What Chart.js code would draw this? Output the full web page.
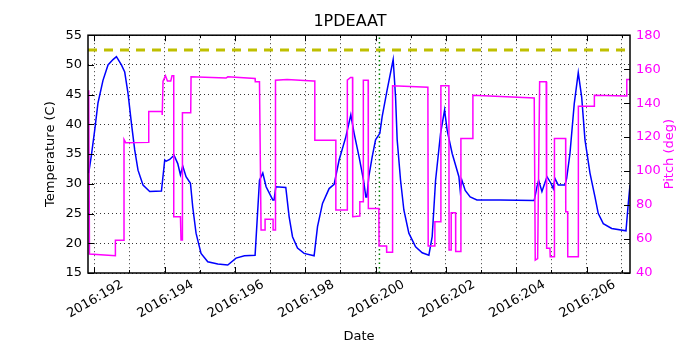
<!DOCTYPE html>
<html><head><meta charset="utf-8">
<script src="https://cdn.jsdelivr.net/npm/chart.js@4.4.0/dist/chart.umd.min.js"></script>
<style>html,body{margin:0;padding:0;background:#fff}</style>
</head><body>
<canvas id="c" width="700" height="350"></canvas>
<script>
// ---- data ----
const tempDays = [191.844,191.920,192.014,192.108,192.250,192.393,192.535,192.632,192.774,192.868,192.962,193.058,193.152,193.246,193.388,193.579,193.912,194.006,194.048,194.148,194.270,194.376,194.452,194.518,194.612,194.737,194.802,194.896,195.038,195.229,195.514,195.798,196.034,196.273,196.575,196.700,196.794,196.888,197.078,197.115,197.164,197.448,197.542,197.639,197.781,197.969,198.253,198.350,198.492,198.680,198.822,198.964,199.155,199.297,199.391,199.533,199.659,199.724,199.753,199.809,199.903,200.000,200.122,200.188,200.330,200.501,200.569,200.615,200.711,200.805,200.947,201.138,201.326,201.516,201.610,201.707,201.849,201.963,202.037,202.179,202.370,202.407,202.455,202.549,202.691,202.882,203.545,204.512,204.589,204.637,204.731,204.874,204.987,205.053,205.101,205.195,205.386,205.434,205.528,205.650,205.764,205.861,205.955,206.097,206.239,206.333,206.475,206.714,207.121,207.186,207.235];
const temps = [31.8,34.8,39.0,43.6,47.4,50.0,50.9,51.4,50.0,48.8,45.2,40.2,35.7,32.3,29.8,28.7,28.8,34.0,33.8,34.1,34.8,33.4,31.5,33.0,31.2,30.1,26.1,21.7,18.3,16.9,16.5,16.35,17.5,17.9,18.0,30.6,31.8,29.5,27.3,27.3,29.5,29.4,24.5,21.1,19.2,18.3,17.9,22.8,26.7,29.2,29.9,34.0,37.9,41.6,38.5,34.5,30.6,27.8,27.8,31.2,34.5,37.4,38.5,41.3,45.8,50.9,44.6,37.4,30.6,25.6,21.7,19.4,18.4,18.0,21.1,30.6,38.5,42.4,39.0,35.1,31.2,28.9,30.6,28.9,27.8,27.3,27.3,27.2,29.5,30.6,28.7,31.2,30.1,29.2,30.9,29.8,29.8,30.9,35.1,43.5,48.7,44.6,37.4,31.8,27.8,25.0,23.3,22.5,22.1,26.7,29.8];
const pitchDays = [191.844,191.866,192.603,192.603,192.848,192.848,192.896,193.551,193.551,193.929,193.935,193.957,194.026,194.083,194.177,194.213,194.262,194.262,194.452,194.469,194.509,194.509,194.745,194.754,195.750,195.798,196.575,196.580,196.700,196.745,196.859,196.859,197.087,197.087,197.155,197.155,197.485,198.225,198.273,198.273,198.871,198.871,199.192,199.198,199.289,199.346,199.351,199.553,199.553,199.647,199.653,199.790,199.795,200.094,200.100,200.313,200.316,200.478,200.484,201.488,201.497,201.687,201.687,201.858,201.858,202.085,202.091,202.151,202.151,202.276,202.279,202.427,202.427,202.768,202.768,204.512,204.541,204.609,204.666,204.853,204.865,204.959,204.967,205.081,205.087,205.405,205.408,205.462,205.465,205.764,205.767,206.219,206.222,207.141,207.144,207.235];
const pitch = [147.6,51.2,50.2,59.3,59.3,118.6,116.7,116.9,135.1,135.1,133.0,152.9,156.1,153.0,153.0,156.1,156.1,73.1,73.1,59.4,59.4,134.3,134.3,155.5,154.8,155.5,154.5,152.6,152.6,65.3,65.3,71.6,71.6,65.3,65.3,153.5,153.9,153.1,153.1,118.2,118.2,77.1,77.1,153.5,155.1,155.1,73.1,73.5,82.0,82.0,153.5,153.5,78.0,78.0,55.9,55.9,52.2,52.2,150.2,149.4,55.9,55.9,70.2,70.2,150.2,150.2,53.5,53.5,75.5,75.5,52.6,52.6,119.2,119.2,144.7,143.1,47.6,48.5,152.6,152.6,54.5,54.5,49.6,49.6,119.2,119.2,76.1,76.1,49.6,49.6,138.2,138.2,144.7,144.2,153.9,153.9];
const limitTemp = 52.5;
const markerDay = 200.11;
const dayTicks = [192,193,194,195,196,197,198,199,200,201,202,203,204,205,206,207];
const tempTicks = [15,20,25,30,35,40,45,50,55];
const pitchTicks = [40,60,80,100,120,140,160,180];
const xMin = 191.824, xMax = 207.235;
const rightTitle = 'Pitch (deg)';

Chart.defaults.font.family = "'DejaVu Sans', sans-serif";
Chart.defaults.font.size = 13;
Chart.defaults.color = '#000';

const frame = {
  id: 'frame',
  afterDatasetsDraw(chart) {
    const {ctx, chartArea: a, scales} = chart;
    ctx.save();
    ctx.strokeStyle = '#000';
    ctx.lineWidth = 1;
    ctx.beginPath();
    dayTicks.forEach(d => {
      const x = Math.round(scales.x.getPixelForValue(d)) + 0.5;
      const len = d % 2 === 0 ? 6 : 3;
      ctx.moveTo(x, a.bottom); ctx.lineTo(x, a.bottom - len);
      ctx.moveTo(x, a.top); ctx.lineTo(x, a.top + len);
    });
    tempTicks.forEach(v => {
      const y = Math.round(scales.y.getPixelForValue(v)) + 0.5;
      ctx.moveTo(a.left, y); ctx.lineTo(a.left + 6, y);
    });
    pitchTicks.forEach(v => {
      const y = Math.round(scales.y2.getPixelForValue(v)) + 0.5;
      ctx.moveTo(a.right, y); ctx.lineTo(a.right - 6, y);
    });
    ctx.stroke();
    ctx.lineWidth = 1.5;
    ctx.strokeRect(a.left, a.top, a.right - a.left, a.bottom - a.top);
    // right axis title, reading bottom-to-top as in the reference
    const s = scales.y2;
    ctx.translate(s.right - 30, (a.top + a.bottom) / 2);
    ctx.rotate(-Math.PI / 2);
    ctx.fillStyle = '#ff00ff';
    ctx.font = "13px 'DejaVu Sans', sans-serif";
    ctx.textAlign = 'center';
    ctx.textBaseline = 'middle';
    ctx.fillText(rightTitle, 0, 0);
    ctx.restore();
  }
};

const xy = (xs, ys) => xs.map((x, i) => ({x, y: ys[i]}));

new Chart(document.getElementById('c'), {
  type: 'line',
  data: {
    datasets: [
      { label: 'Pitch', data: xy(pitchDays, pitch), yAxisID: 'y2',
        borderColor: '#ff00ff', borderWidth: 1.5, pointRadius: 0, tension: 0 },
      { label: '1PDEAAT', data: xy(tempDays, temps), yAxisID: 'y',
        borderColor: '#0000ff', borderWidth: 1.5, pointRadius: 0, tension: 0 },
      { label: 'limit', data: [{x: xMin, y: limitTemp}, {x: xMax, y: limitTemp}], yAxisID: 'y',
        borderColor: '#bfbf00', borderWidth: 3, borderDash: [9, 7], pointRadius: 0 },
      { label: 'marker', data: [{x: markerDay, y: 15}, {x: markerDay, y: 55}], yAxisID: 'y',
        borderColor: '#008000', borderWidth: 1.5, borderDash: [1.5, 3], pointRadius: 0 }
    ]
  },
  options: {
    responsive: false,
    animation: false,
    devicePixelRatio: 1,
    layout: { padding: 0 },
    plugins: {
      legend: { display: false },
      tooltip: { enabled: false },
      title: { display: true, text: '1PDEAAT', color: '#000',
        font: { size: 16, weight: 'normal' }, padding: { top: 12, bottom: 4 } }
    },
    scales: {
      x: {
        type: 'linear', min: xMin, max: xMax,
        afterBuildTicks: s => { s.ticks = dayTicks.map(v => ({value: v})); },
        afterFit: s => { s.height = 77; },
        ticks: {
          autoSkip: false, minRotation: 30, maxRotation: 30, labelOffset: 28, padding: 4,
          callback: v => (v % 2 === 0 ? '2016:' + String(v).padStart(3, '0') : '')
        },
        grid: { color: '#000', lineWidth: 0.8, drawTicks: false },
        border: { display: false, dash: [1, 3] },
        title: { display: true, text: 'Date', padding: { top: 0, bottom: 6 } }
      },
      y: {
        position: 'left', min: 15, max: 55,
        afterFit: s => { s.width = 88; },
        ticks: { stepSize: 5, padding: 6 },
        grid: { color: '#000', lineWidth: 0.8, drawTicks: false },
        border: { display: false, dash: [1, 3] },
        title: { display: true, text: 'Temperature (C)', padding: { top: 43, bottom: 0 } }
      },
      y2: {
        position: 'right', min: 40, max: 180,
        afterFit: s => { s.width = 70; },
        ticks: { stepSize: 20, padding: 6, color: '#ff00ff' },
        grid: { display: false, drawTicks: false },
        border: { display: false },
        title: { display: false }
      }
    }
  },
  plugins: [frame]
});
</script>
</body></html>
